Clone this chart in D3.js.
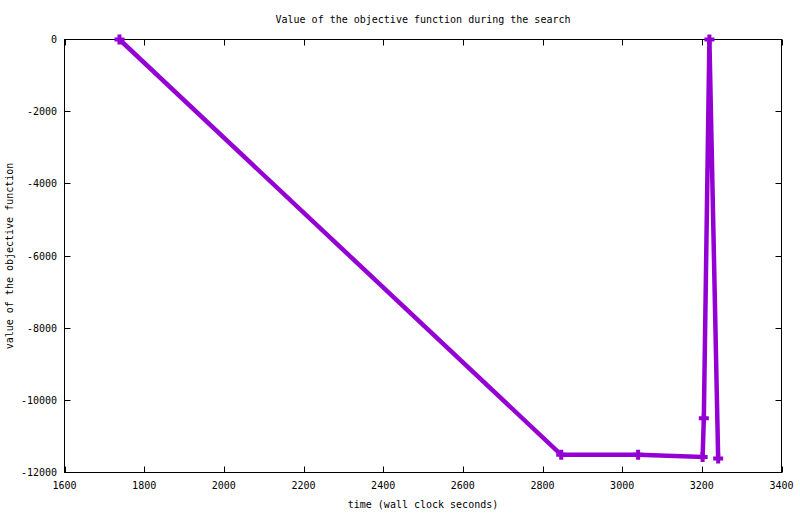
<!DOCTYPE html>
<html><head><meta charset="utf-8">
<script src="https://cdn.jsdelivr.net/npm/d3@7"></script>
<style>body{margin:0;background:#fff}svg{display:block}text{font-family:"DejaVu Sans Mono",monospace;font-size:10px;fill:#000}</style>
</head><body>
<svg id="c" width="800" height="514"></svg>
<script>
const times = [1738, 2847, 3040, 3202, 3205, 3219, 3241];
const values = [0, -11509, -11509, -11570, -10495, 0, -11610];
const xTicks = [1600, 1800, 2000, 2200, 2400, 2600, 2800, 3000, 3200, 3400];
const yTicks = [0, -2000, -4000, -6000, -8000, -10000, -12000];
const title = "Value of the objective function during the search";
const xLabel = "time (wall clock seconds)";
const yLabel = "value of the objective function";

const svg = d3.select("#c");
const L = 64.5, R = 781.5, T = 39.5, B = 472.5;
const x = d3.scaleLinear().domain([1600, 3400]).range([L, R]);
const y = d3.scaleLinear().domain([-12000, 0]).range([B, T]);
const tl = 6;

const g = svg.append("g");
xTicks.forEach(t => {
  const px = Math.round(x(t)) + 0.5;
  g.append("line").attr("x1", px).attr("x2", px).attr("y1", B).attr("y2", B - tl).attr("stroke", "#000");
  g.append("line").attr("x1", px).attr("x2", px).attr("y1", T).attr("y2", T + tl).attr("stroke", "#000");
  g.append("text").attr("x", x(t)).attr("y", 489).attr("text-anchor", "middle").text(t);
});
yTicks.forEach(t => {
  const py = Math.round(y(t) - 0.5) + 0.5;
  g.append("line").attr("x1", L).attr("x2", L + tl).attr("y1", py).attr("y2", py).attr("stroke", "#000");
  g.append("line").attr("x1", R).attr("x2", R - tl).attr("y1", py).attr("y2", py).attr("stroke", "#000");
  g.append("text").attr("x", 57).attr("y", y(t) + 3.5).attr("text-anchor", "end").text(t);
});
g.append("rect").attr("x", L).attr("y", T).attr("width", R - L).attr("height", B - T)
  .attr("fill", "none").attr("stroke", "#000");

svg.append("text").attr("x", (L + R) / 2).attr("y", 23).attr("text-anchor", "middle").text(title);
svg.append("text").attr("x", (L + R) / 2).attr("y", 508).attr("text-anchor", "middle").text(xLabel);
svg.append("text").attr("transform", `translate(13,${(T + B) / 2}) rotate(-90)`).attr("text-anchor", "middle").text(yLabel);

const data = times.map((t, i) => [t, values[i]]);
const line = d3.line().x(d => x(d[0])).y(d => y(d[1]));
const col = "#9400D3";
svg.append("path").attr("d", line(data)).attr("fill", "none").attr("stroke", col)
  .attr("stroke-width", 4.5).attr("stroke-linejoin", "miter");
const ms = 5;
data.forEach(d => {
  const cx = x(d[0]), cy = y(d[1]);
  svg.append("path").attr("d", `M${cx - ms},${cy}H${cx + ms}M${cx},${cy - ms}V${cy + ms}`)
    .attr("stroke", col).attr("stroke-width", 4).attr("fill", "none");
});
</script>
</body></html>
